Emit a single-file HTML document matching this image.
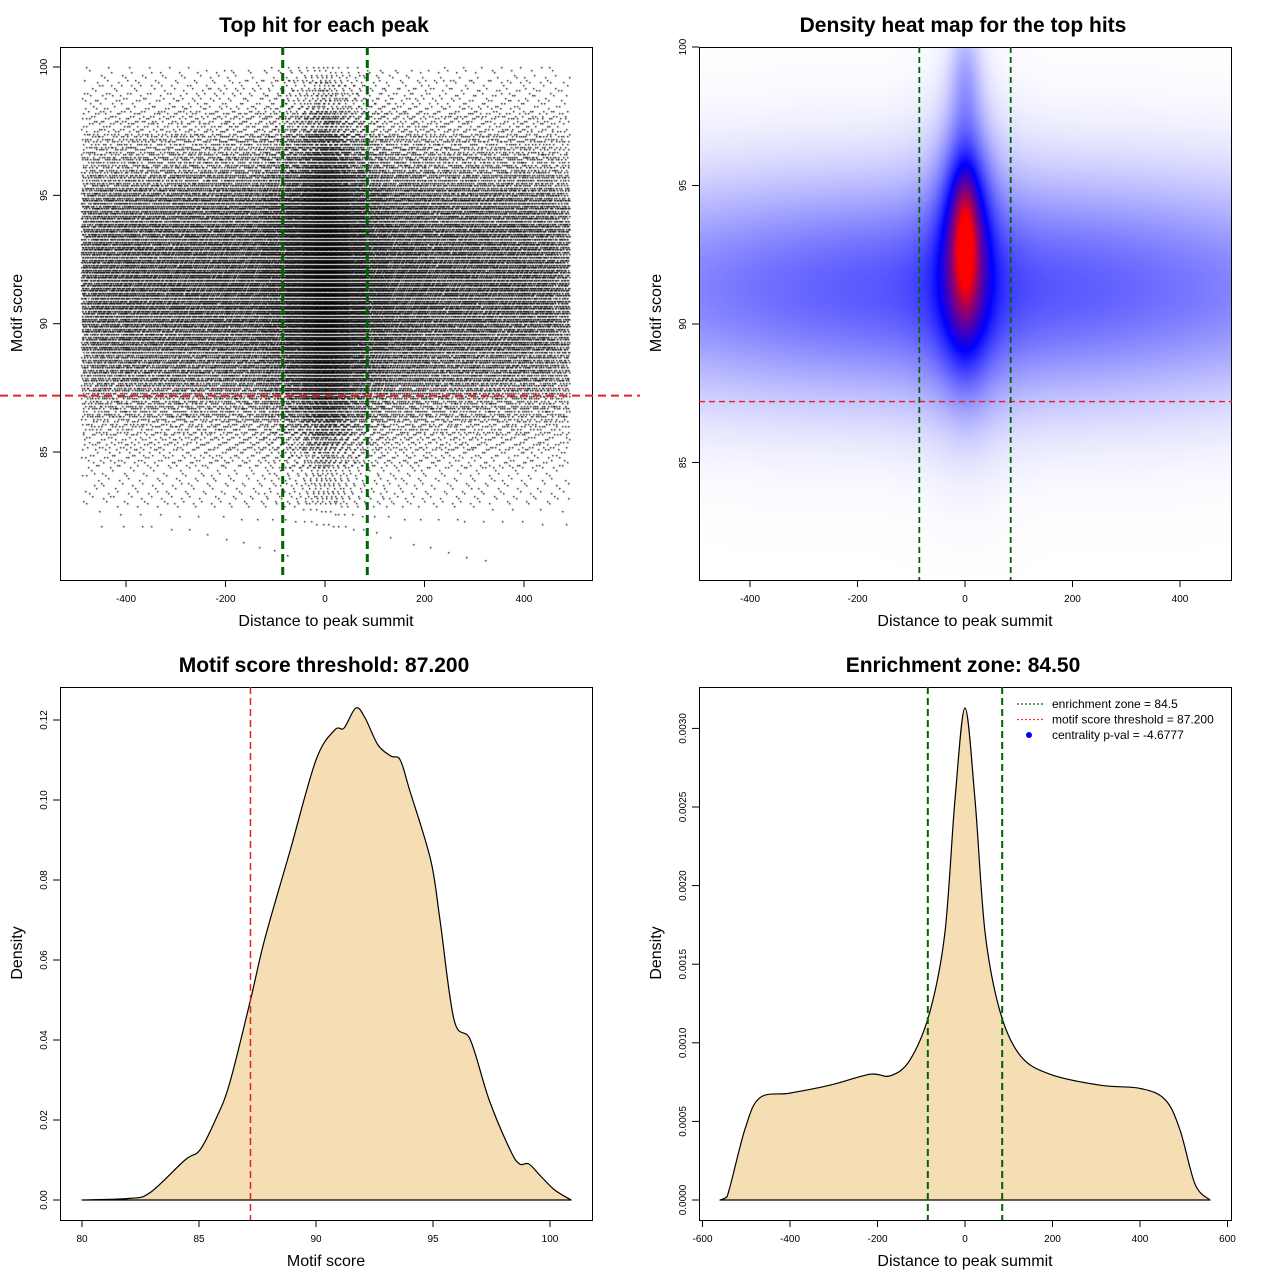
<!DOCTYPE html>
<html><head><meta charset="utf-8">
<style>
html,body{margin:0;padding:0;background:#fff;}
#wrap{position:relative;width:1280px;height:1280px;overflow:hidden;font-family:"Liberation Sans",sans-serif;}
canvas{position:absolute;}
svg{position:absolute;left:0;top:0;}
</style></head>
<body>
<div id="wrap">
<canvas id="scat" width="532" height="533" style="left:60px;top:47px"></canvas>
<canvas id="heat" width="533" height="533" style="left:699px;top:47px"></canvas>
<svg id="svg" width="1280" height="1280" xmlns="http://www.w3.org/2000/svg"></svg>
</div>
<script>
// ---- data ----
const scoreX = [80,82,82.9,84.4,85.04,85.7,86.3,87.2,87.8,88.9,90,90.8,91.2,91.7,92.1,92.65,93.2,93.6,94,94.9,95.3,95.9,96.6,97.4,98.3,98.7,99.1,99.6,100.2,100.9];
const scoreD = [0,0.0004,0.0018,0.01,0.0125,0.02,0.029,0.05,0.065,0.0875,0.11,0.1175,0.118,0.123,0.1205,0.11375,0.111,0.11,0.1025,0.085,0.07,0.045,0.04,0.025,0.0125,0.009,0.009,0.006,0.0025,0];
const distX = [-560,-544,-503,-469,-400,-309,-217,-171,-126,-80,-46,-23,0,23,46,80,126,194,309,400,457,491,526,560];
const distD = [0,0.00002,0.00045,0.00065,0.00068,0.00073,0.0008,0.00079,0.00089,0.0012,0.0017,0.00254,0.00313,0.00254,0.0017,0.0012,0.00092,0.0008,0.00073,0.00071,0.00064,0.00045,0.0001,0];
const scoreThreshold = 87.2;
const enrichZone = 85;
// heatmap kernel components
const hmCx = [0,0,0,0,0];
const hmCy = [91.3,93,93,99,92];
const hmSx = [600,30,14,20,60];
const hmSy = [2.8,2.8,1.5,1.5,4];
const hmW  = [0.34,0.45,0.33,0.12,0.1];
const p1Xticks=[-400,-200,0,200,400], p1Yticks=[85,90,95,100];
const p3Xticks=[80,85,90,95,100], p3Yticks=[0,0.02,0.04,0.06,0.08,0.10,0.12];
const p3Ylabels=["0.00","0.02","0.04","0.06","0.08","0.10","0.12"];
const p4Xticks=[-600,-400,-200,0,200,400,600], p4Yticks=[0,0.0005,0.001,0.0015,0.002,0.0025,0.003];
const p4Ylabels=["0.0000","0.0005","0.0010","0.0015","0.0020","0.0025","0.0030"];

// ---- axes ----
const x1=v=>325+v*0.4975, y1=v=>67+(100-v)*25.67;
const x2=v=>965+v*0.5375, y2=v=>47+(100-v)*27.7;
const x3=v=>82+(v-80)*23.4, y3=v=>1200-v*4000;
const x4=v=>965+v*0.4375, y4=v=>1200-v*157200;

const NS="http://www.w3.org/2000/svg", svg=document.getElementById('svg');
function el(tag,attrs,parent){const e=document.createElementNS(NS,tag);for(const k in attrs)e.setAttribute(k,attrs[k]);(parent||svg).appendChild(e);return e;}
function txt(s,attrs){const e=el('text',attrs);e.textContent=s;return e;}

function panel(name,bx,by,title,xlab,ylab,xt,xf,xl,yt,yf,yl){
  const g=el('g',{});
  
  
  const r=el('rect',{x:bx+0.5,y:by+0.5,width:532,height:533,fill:'none',stroke:'#000','stroke-width':1},g);
  
  
  const t=txt(title,{x:bx+264,y:by-15,'font-size':21,'font-weight':'bold','text-anchor':'middle'});
  
  
  const xa=txt(xlab,{x:bx+266,y:by+579,'font-size':16,'text-anchor':'middle'});
  
  
  const ya=txt(ylab,{x:0,y:0,'font-size':16,'text-anchor':'middle',transform:`translate(${bx-38},${by+266}) rotate(-90)`});
  
  
  const xb=by+533;
  el('line',{x1:xf(xt[0]),x2:xf(xt[xt.length-1]),y1:xb+0.5,y2:xb+0.5,stroke:'#000'});
  xt.forEach((v,i)=>{const X=xf(v);el('line',{x1:X,x2:X,y1:xb,y2:xb+7,stroke:'#000'});
    const l=txt(xl[i],{x:X,y:xb+22,'font-size':10,'text-anchor':'middle'});
    
    });
  el('line',{x1:bx+0.5,x2:bx+0.5,y1:yf(yt[0]),y2:yf(yt[yt.length-1]),stroke:'#000'});
  yt.forEach((v,i)=>{const Y=yf(v);el('line',{x1:bx-7,x2:bx,y1:Y,y2:Y,stroke:'#000'});
    const l=txt(yl[i],{x:0,y:0,'font-size':10,'text-anchor':'middle',transform:`translate(${bx-13},${Y}) rotate(-90)`});
    
    });
}
panel('panel-top-hits',60,47,'Top hit for each peak','Distance to peak summit','Motif score',p1Xticks,x1,p1Xticks.map(String),p1Yticks,y1,p1Yticks.map(String));
panel('panel-heatmap',699,47,'Density heat map for the top hits','Distance to peak summit','Motif score',p1Xticks,x2,p1Xticks.map(String),p1Yticks,y2,p1Yticks.map(String));
panel('panel-score-density',60,687,'Motif score threshold: 87.200','Motif score','Density',p3Xticks,x3,p3Xticks.map(String),p3Yticks,y3,p3Ylabels);
panel('panel-enrichment',699,687,'Enrichment zone: 84.50','Distance to peak summit','Density',p4Xticks,x4,p4Xticks.map(String),p4Yticks,y4,p4Ylabels);

// ---- density areas (smooth Catmull-Rom) ----
function area(xs,ds,xf,yf,name){
  const P=xs.map((x,i)=>[xf(x),yf(ds[i])]);
  let d=`M${P[0][0]},${yf(0)} L${P[0][0].toFixed(1)},${P[0][1].toFixed(1)}`;
  for(let i=0;i<P.length-1;i++){
    const p0=P[Math.max(0,i-1)],p1=P[i],p2=P[i+1],p3=P[Math.min(P.length-1,i+2)];
    const c1=[p1[0]+(p2[0]-p0[0])/6,p1[1]+(p2[1]-p0[1])/6];
    const c2=[p2[0]-(p3[0]-p1[0])/6,p2[1]-(p3[1]-p1[1])/6];
    d+=` C${c1[0].toFixed(1)},${Math.min(yf(0),c1[1]).toFixed(1)} ${c2[0].toFixed(1)},${Math.min(yf(0),c2[1]).toFixed(1)} ${p2[0].toFixed(1)},${p2[1].toFixed(1)}`;
  }
  d+=` Z`;
  const p=el('path',{d:d,fill:'#f5deb3',stroke:'#000','stroke-width':1.2,'stroke-linejoin':'round'});
  
  
}
area(scoreX,scoreD,x3,y3,'score-density-curve');
area(distX,distD,x4,y4,'distance-density-curve');

// ---- reference lines ----
function vline(X,y0,y1,col,dash,w,name){const l=el('line',{x1:X,x2:X,y1:y0,y2:y1,stroke:col,'stroke-dasharray':dash,'stroke-width':w});
  
  }
function hline(Y,x0,x1,col,dash,w,name){const l=el('line',{x1:x0,x2:x1,y1:Y,y2:Y,stroke:col,'stroke-dasharray':dash,'stroke-width':w});
  
  }
hline(y1(scoreThreshold),0,640,'#e52222','8,5',2,'threshold-line');
vline(x1(-enrichZone),47,580,'#006400','8,5',3,'enrichment-left');
vline(x1(enrichZone),47,580,'#006400','8,5',3,'enrichment-right');
hline(y2(scoreThreshold),699,1232,'#e52222','6,4',1.3,'threshold-line');
vline(x2(-enrichZone),47,580,'#006400','6,4',1.8,'enrichment-left');
vline(x2(enrichZone),47,580,'#006400','6,4',1.8,'enrichment-right');
vline(x3(scoreThreshold),687,1220,'#e52222','7,4',1.5,'threshold-line');
vline(x4(-enrichZone),687,1220,'#006400','7,4',2,'enrichment-left');
vline(x4(enrichZone),687,1220,'#006400','7,4',2,'enrichment-right');

// legend
const leg=[['enrichment zone = 84.5','#006400'],['motif score threshold = 87.200','#ff3030'],['centrality p-val = -4.6777','#0000ff']];
leg.forEach((e,i)=>{const Y=704+i*15.5;
  if(i<2)el('line',{x1:1017,x2:1043,y1:Y,y2:Y,stroke:e[1],'stroke-dasharray':'2,2','stroke-width':1.2});
  else el('circle',{cx:1029,cy:Y,r:3,fill:e[1]});
  const t=txt(e[0],{x:1052,y:Y+4,'font-size':12});
  
  });

// ---- scatter (quantile sampling from densities) ----
function cdf(xs,ds){const c=[0];for(let i=1;i<xs.length;i++)c.push(c[i-1]+(ds[i]+ds[i-1])/2*(xs[i]-xs[i-1]));const T=c[c.length-1];return c.map(v=>v/T);}
function quant(xs,c,u){for(let i=1;i<xs.length;i++){if(u<=c[i]){const f=(u-c[i-1])/((c[i]-c[i-1])||1);return xs[i-1]+f*(xs[i]-xs[i-1]);}}return xs[xs.length-1];}
const cs=cdf(scoreX,scoreD), cd=cdf(distX,distD);
const sc=document.getElementById('scat').getContext('2d');
sc.fillStyle='#000';
const N=60000;
for(let i=0;i<N;i++){
  const u=(i*0.7548776662)%1, v=(i*0.5698402910)%1;
  let s=Math.round(quant(scoreX,cs,u)*10)/10;
  let d=Math.round(quant(distX,cd,v));
  if(s>100||s<80.8||d<-490||d>490)continue;
  sc.fillRect(Math.round(x1(d)-60),Math.round(y1(s)-47),1.4,1.4);
}

// ---- heatmap ----
const hc=document.getElementById('heat').getContext('2d');
const img=hc.createImageData(533,533);
for(let py=0;py<533;py++){const s=100-(py)/27.7;
  for(let px=0;px<533;px++){const x=(px+699-965)/0.5375;
    let v=0;for(let k=0;k<hmW.length;k++){const a=(x-hmCx[k])/hmSx[k],b=(s-hmCy[k])/hmSy[k];v+=hmW[k]*Math.exp(-0.5*(a*a+b*b));}
    v=Math.min(1,v);let r,g,bl;
    if(v<0.5){const t=v/0.5;r=255*(1-t);g=255*(1-t);bl=255;}else{const t=(v-0.5)/0.5;r=255*t;g=0;bl=255*(1-t);}
    const o=(py*533+px)*4;img.data[o]=r;img.data[o+1]=g;img.data[o+2]=bl;img.data[o+3]=255;}}
hc.putImageData(img,0,0);
</script>
</body></html>
